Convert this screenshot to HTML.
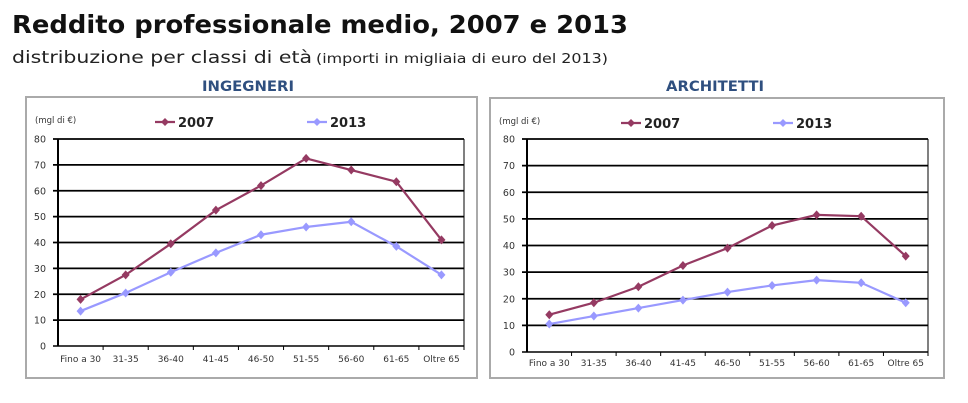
<!DOCTYPE html>
<html><head><meta charset="utf-8"><style>
html,body{margin:0;padding:0;background:#fff;width:968px;height:403px;overflow:hidden}
text{font-family:"DejaVu Sans","Liberation Sans",sans-serif}
</style></head><body>
<svg width="968" height="403" viewBox="0 0 968 403" xmlns="http://www.w3.org/2000/svg">
<text x="12" y="33" font-size="25" font-weight="bold" fill="#111" textLength="616" lengthAdjust="spacingAndGlyphs">Reddito professionale medio, 2007 e 2013</text>
<text x="12" y="63" font-size="17" fill="#222" textLength="300" lengthAdjust="spacingAndGlyphs">distribuzione per classi di età</text>
<text x="316" y="63" font-size="13" fill="#222" textLength="292" lengthAdjust="spacingAndGlyphs">(importi in migliaia di euro del 2013)</text>
<text x="248" y="91" font-size="14" font-weight="bold" fill="#2f4f7f" text-anchor="middle" textLength="92" lengthAdjust="spacingAndGlyphs">INGEGNERI</text>
<text x="715" y="91" font-size="14" font-weight="bold" fill="#2f4f7f" text-anchor="middle" textLength="98" lengthAdjust="spacingAndGlyphs">ARCHITETTI</text>
<g id="charts"></g>
</svg>
<script>
function chart(o){
 var s='';
 s+='<rect x="'+o.fx+'" y="'+o.fy+'" width="'+o.fw+'" height="'+o.fh+'" fill="#fff" stroke="#aaa" stroke-width="2"/>';
 var L=o.l,R=o.r,T=o.t,B=o.b,u=(B-T)/8;
 for(var i=0;i<=8;i++){var y=B-i*u;
  s+='<line x1="'+(L-5)+'" x2="'+R+'" y1="'+y+'" y2="'+y+'" stroke="#000" stroke-width="'+(i==0?1.5:1.8)+'"/>';
  s+='<text x="'+(L-12)+'" y="'+(y+3.5)+'" font-size="9.5" fill="#333" text-anchor="end">'+(i*10)+'</text>';}
 s+='<line x1="'+L+'" x2="'+L+'" y1="'+T+'" y2="'+B+'" stroke="#000" stroke-width="2"/>';
 s+='<line x1="'+R+'" x2="'+R+'" y1="'+T+'" y2="'+B+'" stroke="#000" stroke-width="1"/>';
 var cw=(R-L)/9,cats=["Fino a 30","31-35","36-40","41-45","46-50","51-55","56-60","61-65","Oltre 65"];
 for(var i=0;i<9;i++){var x=L+cw*(i+.5);
  s+='<line x1="'+(L+cw*(i+1))+'" x2="'+(L+cw*(i+1))+'" y1="'+B+'" y2="'+(B+4)+'" stroke="#000"/>';
  s+='<text x="'+x+'" y="'+o.ly+'" font-size="9" fill="#333" text-anchor="middle">'+cats[i]+'</text>';}
 function ser(d,c){var p=d.map(function(v,i){return (L+cw*(i+.5))+','+(B-v/10*u)}).join(' ');
  var r='<polyline points="'+p+'" fill="none" stroke="'+c+'" stroke-width="2.2"/>';
  d.forEach(function(v,i){var x=L+cw*(i+.5),y=B-v/10*u;r+='<path d="M'+x+' '+(y-4.5)+'L'+(x+4)+' '+y+'L'+x+' '+(y+4.5)+'L'+(x-4)+' '+y+'Z" fill="'+c+'"/>';});return r;}
 s+=ser(o.b13,'#9999ff');s+=ser(o.a07,'#953a62');
 s+='<text x="'+(o.fx+9)+'" y="'+(o.fy+26)+'" font-size="8.5" fill="#333">(mgl di €)</text>';
 var lx=o.lg;
 s+='<line x1="'+lx+'" x2="'+(lx+20)+'" y1="'+(o.fy+25)+'" y2="'+(o.fy+25)+'" stroke="#953a62" stroke-width="2.2"/><path d="M'+(lx+10)+' '+(o.fy+21)+'l4 4l-4 4l-4-4z" fill="#953a62"/>';
 s+='<text x="'+(lx+23)+'" y="'+(o.fy+30)+'" font-size="13" font-weight="bold" fill="#222">2007</text>';
 lx+=152;
 s+='<line x1="'+lx+'" x2="'+(lx+20)+'" y1="'+(o.fy+25)+'" y2="'+(o.fy+25)+'" stroke="#9999ff" stroke-width="2.2"/><path d="M'+(lx+10)+' '+(o.fy+21)+'l4 4l-4 4l-4-4z" fill="#9999ff"/>';
 s+='<text x="'+(lx+23)+'" y="'+(o.fy+30)+'" font-size="13" font-weight="bold" fill="#222">2013</text>';
 return s;}
document.getElementById('charts').innerHTML=
chart({fx:26,fy:97,fw:451,fh:281,l:58,r:464,t:139,b:346,ly:362,lg:155,
a07:[18,27.5,39.5,52.5,62,72.5,68,63.5,41],b13:[13.5,20.5,28.5,36,43,46,48,38.5,27.5]})+
chart({fx:490,fy:98,fw:454,fh:280,l:527,r:928,t:139,b:352,ly:366,lg:621,
a07:[14,18.5,24.5,32.5,39,47.5,51.5,51,36],b13:[10.5,13.5,16.5,19.5,22.5,25,27,26,18.5]});
</script>
</body></html>
